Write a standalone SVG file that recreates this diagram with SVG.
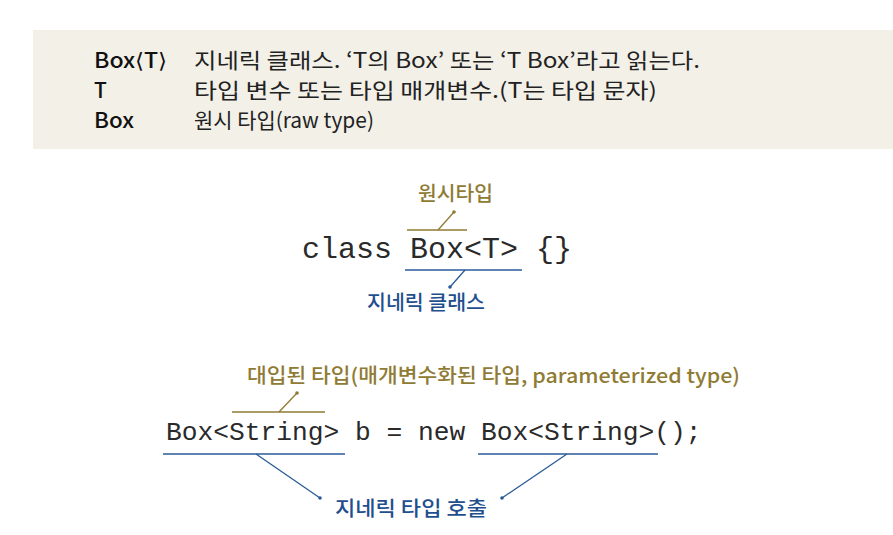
<svg xmlns="http://www.w3.org/2000/svg" width="893" height="535" viewBox="0 0 893 535">
<style>
.hd{font-family:"Noto Sans CJK KR",sans-serif;font-size:21px;fill:#111;font-weight:500}
.ds{font-family:"Noto Sans CJK KR",sans-serif;font-size:21px;fill:#222;font-weight:400}
.code{font-family:"Liberation Mono",monospace;fill:#2a2a2a}
.gold{font-family:"Noto Sans CJK KR",sans-serif;font-size:20px;fill:#8f7b34;font-weight:500}
.blue{font-family:"Noto Sans CJK KR",sans-serif;font-size:20px;fill:#1f4f8e;font-weight:500}
.gl{stroke:#8f7b34;stroke-width:1.3;fill:none}
.bl{stroke:#2a5a98;stroke-width:1.3;fill:none}
.gd{fill:#8f7b34}
.bd{fill:#2a5a98}
</style>
<rect width="893" height="535" fill="#ffffff"/>
<g id="legend">
<rect x="33" y="30" width="860" height="119" fill="#f3f0e8"/>
<text class="hd" x="94" y="68" textLength="73" lengthAdjust="spacingAndGlyphs">Box⟨T⟩</text>
<text class="ds" x="194" y="68" textLength="506" lengthAdjust="spacingAndGlyphs">지네릭 클래스. ‘T의 Box’ 또는 ‘T Box’라고 읽는다.</text>
<text class="hd" x="94" y="98">T</text>
<text class="ds" x="194" y="98" textLength="463" lengthAdjust="spacingAndGlyphs">타입 변수 또는 타입 매개변수.(T는 타입 문자)</text>
<text class="hd" x="94" y="128" textLength="40" lengthAdjust="spacingAndGlyphs">Box</text>
<text class="ds" x="194" y="128" textLength="180" lengthAdjust="spacingAndGlyphs">원시 타입(raw type)</text>
</g>
<g id="code1">
<text class="code" x="302" y="258" font-size="30">class Box&lt;T&gt; {}</text>
</g>
<g id="label-raw">
<text class="gold" x="418" y="201" textLength="75" lengthAdjust="spacingAndGlyphs">원시타입</text>
</g>
<g id="label-generic-class">
<text class="blue" x="367" y="310" textLength="118" lengthAdjust="spacingAndGlyphs">지네릭 클래스</text>
</g>
<g id="code2">
<text class="code" x="166" y="440" font-size="26.25">Box&lt;String&gt; b = new Box&lt;String&gt;();</text>
</g>
<g id="label-param">
<text class="gold" x="247" y="383" textLength="493" lengthAdjust="spacingAndGlyphs">대입된 타입(매개변수화된 타입, parameterized type)</text>
</g>
<g id="label-call">
<text class="blue" x="335" y="516" textLength="152" lengthAdjust="spacingAndGlyphs">지네릭 타입 호출</text>
</g>
<g id="connectors">
<line class="gl" x1="407" y1="230" x2="467" y2="230"/>
<line class="gl" x1="438" y1="230" x2="454" y2="212"/>
<circle class="gd" cx="454" cy="212" r="1.8"/>
<line class="bl" x1="405" y1="270" x2="522" y2="270"/>
<line class="bl" x1="465" y1="270" x2="450" y2="287"/>
<circle class="bd" cx="450" cy="287" r="1.8"/>
<line class="gl" x1="232" y1="412" x2="325" y2="412"/>
<line class="gl" x1="279" y1="412" x2="297" y2="393"/>
<circle class="gd" cx="297" cy="393" r="1.8"/>
<line class="bl" x1="163" y1="454" x2="345" y2="454"/>
<line class="bl" x1="256" y1="454" x2="320" y2="498"/>
<circle class="bd" cx="320" cy="498" r="1.8"/>
<line class="bl" x1="478" y1="454" x2="658" y2="454"/>
<line class="bl" x1="567" y1="454" x2="502" y2="498"/>
<circle class="bd" cx="502" cy="498" r="1.8"/>
</g>
</svg>
